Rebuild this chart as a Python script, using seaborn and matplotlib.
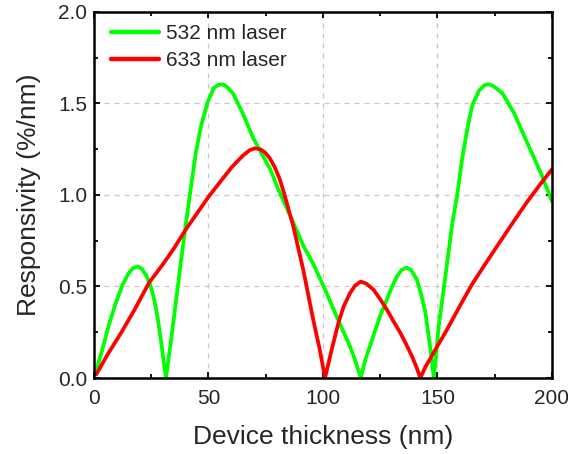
import matplotlib
matplotlib.use("Agg")
import matplotlib.pyplot as plt
import seaborn as sns
import pandas as pd
from matplotlib.ticker import MultipleLocator

# ---- data ----
green_x = [1.0, 3.5, 6.5, 9.5, 12.5, 15.0, 17.0, 19.0, 21.0, 23.0, 24.5, 26.0, 27.8, 29.5, 31.4,
           33.6, 35.8, 38.0, 40.2, 42.4, 44.6, 46.8, 49.7, 52.3, 54.0, 55.5, 57.0, 58.5, 60.7,
           65.0, 69.2, 73.0, 77.0, 80.5, 87.0, 91.5, 95.7, 101.0, 106.0, 111.8, 114.2, 116.5,
           118.5, 122.0, 124.8, 127.9, 130.2, 132.3, 134.3, 136.5, 138.5, 141.0, 142.8, 144.7,
           146.9, 148.4, 150.6, 153.5, 156.4, 158.6, 160.8, 163.0, 165.2, 168.1, 170.5, 172.4,
           174.5, 178.4, 183.5, 189.3, 195.2, 200.0]
green_y = [0.04, 0.15, 0.29, 0.41, 0.51, 0.57, 0.60, 0.61, 0.595, 0.555, 0.51, 0.445, 0.33, 0.18, 0.0,
           0.20, 0.42, 0.64, 0.85, 1.05, 1.24, 1.38, 1.51, 1.585, 1.60, 1.605, 1.60, 1.585, 1.555,
           1.445, 1.32, 1.23, 1.14, 1.03, 0.85, 0.72, 0.625, 0.48, 0.335, 0.173, 0.09, 0.0,
           0.10, 0.23, 0.335, 0.43, 0.50, 0.555, 0.59, 0.603, 0.59, 0.537, 0.46, 0.36,
           0.16, 0.0, 0.29, 0.56, 0.84, 1.0, 1.20, 1.36, 1.49, 1.57, 1.60, 1.605,
           1.595, 1.555, 1.446, 1.282, 1.118, 0.965]

red_x = [1.0, 6.0, 12.0, 18.0, 24.0, 30.0, 35.0, 40.0, 45.0, 50.0, 55.0, 60.0, 65.0, 68.0, 70.2,
         72.5, 74.5, 76.8, 79.0, 81.0, 83.0, 87.0, 91.4, 95.7, 98.5, 100.9,
         103.5, 106.7, 109.0, 111.8, 114.0, 116.5, 119.0, 122.1, 125.0, 127.9, 130.8, 133.8,
         136.5, 138.9, 140.8, 142.5, 144.7, 147.0, 149.9, 153.5, 157.0, 160.5, 165.0, 170.7,
         176.0, 183.5, 189.0, 195.2, 200.0]
red_y = [0.02, 0.13, 0.25, 0.38, 0.52, 0.62, 0.71, 0.81, 0.90, 0.99, 1.07, 1.15, 1.215, 1.245, 1.255,
         1.25, 1.235, 1.20, 1.15, 1.09, 1.01, 0.83, 0.59, 0.32, 0.16, 0.0,
         0.14, 0.30, 0.39, 0.464, 0.505, 0.527, 0.515, 0.482, 0.43, 0.373, 0.31, 0.246,
         0.18, 0.118, 0.06, 0.0, 0.06, 0.11, 0.173, 0.25, 0.33, 0.41, 0.51, 0.62,
         0.72, 0.86, 0.96, 1.064, 1.14]

series_names = ["532 nm laser", "633 nm laser"]
series_colors = ["#00FF00", "#FF0000"]
x_ticks = [0, 50, 100, 150, 200]
y_ticks = [0.0, 0.5, 1.0, 1.5, 2.0]

df = pd.concat([
    pd.DataFrame({"x": green_x, "y": green_y, "laser": series_names[0]}),
    pd.DataFrame({"x": red_x, "y": red_y, "laser": series_names[1]}),
], ignore_index=True)

sns.set_theme(style="ticks")
plt.rcParams["font.family"] = ["Liberation Sans", "DejaVu Sans"]

fig = plt.figure(figsize=(5.68, 4.54), dpi=100)
ax = fig.add_axes([0.1655, 0.1674, 0.8063, 0.8062])

sns.lineplot(data=df, x="x", y="y", hue="laser", palette=dict(zip(series_names, series_colors)),
             estimator=None, sort=False, linewidth=2.7, ax=ax,
             solid_joinstyle="round", solid_capstyle="round")

ax.set_xlim(0, 200)
ax.set_ylim(0, 2.0)
ax.set_xticks(x_ticks)
ax.set_yticks(y_ticks)
ax.set_xticklabels([str(t) for t in x_ticks])
ax.set_yticklabels([f"{t:.1f}" for t in y_ticks])
ax.xaxis.set_minor_locator(MultipleLocator(25))
ax.yaxis.set_minor_locator(MultipleLocator(0.25))

ax.grid(True, which="major", color="#c8c8c8", linestyle=(0, (4, 4)), linewidth=0.9)
ax.set_axisbelow(True)

for s in ax.spines.values():
    s.set_visible(True)
    s.set_linewidth(1.8)
    s.set_color("black")

ax.tick_params(which="both", direction="in", top=True, right=True, color="black",
               labelsize=15, width=1.3)
ax.tick_params(axis="x", which="both", pad=8)
ax.tick_params(axis="y", which="both", pad=5)
ax.tick_params(which="major", length=4)
ax.tick_params(which="minor", length=3)

ax.set_xlabel("Device thickness (nm)", fontsize=19, labelpad=12)
ax.set_ylabel("Responsivity (%/nm)", fontsize=19, labelpad=12)

leg = ax.legend(loc="upper left", frameon=False, fontsize=15, handlelength=2.3,
                handletextpad=0.35, labelspacing=0.38, borderaxespad=0.3, borderpad=0.3,
                bbox_to_anchor=(0.01, 1.0))
for line in leg.get_lines():
    line.set_linewidth(3.2)

fig.savefig("out.png", dpi=100)
